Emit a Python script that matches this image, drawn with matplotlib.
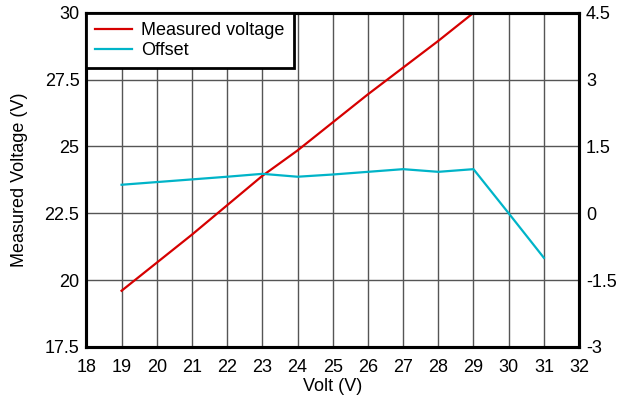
import matplotlib.pyplot as plt

plt.rcParams['font.family'] = ['Liberation Sans', 'DejaVu Sans']

# Input voltage sweep
volt = [19, 20, 21, 22, 23, 24, 25, 26, 27, 28, 29]
measured = [19.6, 20.65, 21.7, 22.8, 23.9, 24.85, 25.9, 26.95, 27.95, 28.95, 30.0]

volt_offset = [19, 20, 21, 22, 23, 24, 25, 26, 27, 28, 29, 30, 31]
offset = [0.64, 0.70, 0.76, 0.82, 0.885, 0.82, 0.87, 0.93, 0.99, 0.93, 0.99, 0.0, -1.0]

left_ticks = [17.5, 20, 22.5, 25, 27.5, 30]
left_labels = ["17.5", "20", "22.5", "25", "27.5", "30"]
right_ticks = [-3, -1.5, 0, 1.5, 3, 4.5]
right_labels = ["-3", "-1.5", "0", "1.5", "3", "4.5"]
x_ticks = list(range(18, 33))

fs = 13

fig, ax = plt.subplots(figsize=(6.26, 4.01), dpi=100)
fig.subplots_adjust(left=0.138, right=0.925, top=0.968, bottom=0.135)
ax2 = ax.twinx()

l1, = ax.plot(volt, measured, color="#D60000", lw=1.6, label="Measured voltage")
l2, = ax2.plot(volt_offset, offset, color="#00B4C8", lw=1.6, label="Offset")

ax.set_xlim(18, 32)
ax.set_ylim(17.5, 30)
ax2.set_ylim(-3, 4.5)

ax.set_xticks(x_ticks)
ax.set_yticks(left_ticks)
ax.set_yticklabels(left_labels)
ax2.set_yticks(right_ticks)
ax2.set_yticklabels(right_labels)

ax.grid(True, color="#555555", lw=1.0)
ax.set_axisbelow(True)

for a in (ax, ax2):
    a.tick_params(length=0, labelsize=fs, pad=5)
    for s in a.spines.values():
        s.set_linewidth(2.2)
        s.set_color("black")
ax.tick_params(axis="x", pad=9)

ax.set_xlabel("Volt (V)", fontsize=fs, labelpad=1)
ax.set_ylabel("Measured Voltage (V)", fontsize=fs, labelpad=12)

leg = ax2.legend(handles=[l1, l2], loc="upper left", borderaxespad=0,
                 fancybox=False, fontsize=fs, handlelength=2.0,
                 handletextpad=0.55, labelspacing=0.2, borderpad=0.5)
leg.get_frame().set_edgecolor("black")
leg.get_frame().set_linewidth(2.0)
leg.get_frame().set_alpha(1)

fig.savefig("out.png", dpi=100)
